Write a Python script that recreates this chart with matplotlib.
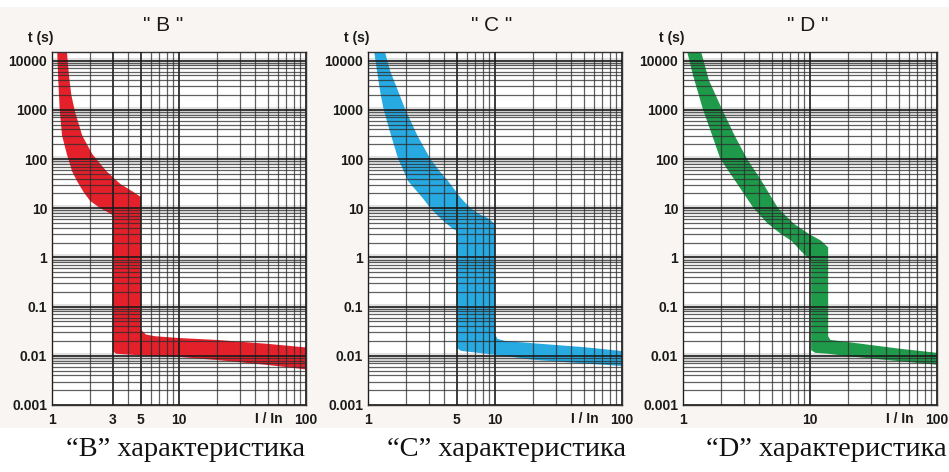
import numpy as np
import matplotlib
matplotlib.use("Agg")
import matplotlib.pyplot as plt
from matplotlib.ticker import FixedLocator, NullFormatter, LogLocator
from matplotlib.patches import Rectangle

# trip curves: (I/In, t in s)
b_upper_x = [1.31, 1.36, 1.42, 1.52, 1.73, 2.08, 2.4, 2.7, 3.1, 3.46, 4.3, 5.0, 5.0, 5.5, 6.5, 10, 20, 50, 100]
b_upper_t = [15000, 5000, 2000, 900, 300, 125, 80, 56, 40, 31, 22, 17, 0.034, 0.027, 0.025, 0.023, 0.021, 0.0175, 0.0148]
b_lower_x = [1.10, 1.12, 1.15, 1.2, 1.31, 1.44, 1.58, 1.78, 2.0, 2.4, 2.75, 3.0, 3.0, 3.2, 5, 10, 20, 50, 100]
b_lower_t = [15000, 4000, 1000, 300, 125, 56, 35, 21, 14, 10, 8.3, 7.2, 0.0125, 0.011, 0.0102, 0.0095, 0.0082, 0.0065, 0.0053]

c_upper_x = [1.36, 1.5, 1.67, 1.97, 2.45, 3.1, 3.7, 4.3, 5.4, 6.4, 7.6, 8.8, 10, 10, 10.5, 12, 20, 50, 100]
c_upper_t = [15000, 6000, 3000, 1000, 300, 100, 55, 35, 16, 10, 7.5, 6.3, 4.8, 0.027, 0.022, 0.020, 0.018, 0.015, 0.0125]
c_lower_x = [1.12, 1.18, 1.26, 1.33, 1.52, 1.73, 2.08, 2.7, 3.1, 3.7, 4.6, 5.0, 5.0, 5.4, 10, 20, 50, 100]
c_lower_t = [15000, 6000, 2000, 1000, 300, 100, 35, 16, 10, 6.3, 3.9, 3.5, 0.0145, 0.0126, 0.0105, 0.0083, 0.007, 0.0062]

d_upper_x = [1.39, 1.6, 2.04, 2.55, 3.2, 4.1, 5.6, 7.5, 9.8, 12.2, 13.9, 13.9, 14.5, 20, 50, 100]
d_upper_t = [15000, 4000, 1000, 300, 100, 38, 10, 4.8, 3.0, 2.2, 1.6, 0.025, 0.021, 0.019, 0.014, 0.0115]
d_lower_x = [1.08, 1.2, 1.44, 1.7, 1.97, 2.54, 3.6, 4.6, 5.9, 7.1, 8.6, 10.2, 10.2, 11, 14, 20, 50, 100]
d_lower_t = [15000, 5000, 1000, 300, 100, 38, 10, 5, 3.0, 2.2, 1.3, 0.85, 0.013, 0.0115, 0.011, 0.0098, 0.0078, 0.0066]

y_ticks = [0.001, 0.01, 0.1, 1, 10, 100, 1000, 10000]
y_labels = ["0.001", "0.01", "0.1", "1", "10", "100", "1000", "10000"]

panels = [
    ("B", b_upper_x, b_upper_t, b_lower_x, b_lower_t, "#e4212b", [1, 3, 5, 10, 100]),
    ("C", c_upper_x, c_upper_t, c_lower_x, c_lower_t, "#27a9e1", [1, 5, 10, 100]),
    ("D", d_upper_x, d_upper_t, d_lower_x, d_lower_t, "#1f9a4b", [1, 10, 100]),
]

W, H = 949, 472
lefts = [52, 368, 683]
title_x = [0.437, 0.488, 0.492]
caption_x = [185, 506, 826]

lab_font = ["Liberation Sans", "DejaVu Sans"]

fig = plt.figure(figsize=(W / 100, H / 100), dpi=100)
fig.patch.set_facecolor("white")
fig.patches.append(Rectangle((0, 1 - 428 / H), 1, (428 - 7) / H, transform=fig.transFigure,
                             facecolor="#f8f5f2", edgecolor="none", zorder=-10))

for i, (name, ux, ut, lx, lt, col, xt) in enumerate(panels):
    ax = fig.add_axes([lefts[i] / W, 1 - 405 / H, 254 / W, 353 / H])
    ax.set_xscale("log")
    ax.set_yscale("log")
    ax.set_xlim(1, 100)
    ax.set_ylim(0.001, 15000)
    ax.set_facecolor("white")

    # band between the two curves
    px = list(ux) + list(lx)[::-1]
    pt = list(ut) + list(lt)[::-1]
    ax.fill(px, pt, color=col, lw=0, zorder=1)

    # grey smear around each decade line
    for d in y_ticks[1:]:
        ax.axhspan(d / 1.3, d * 1.15, color="#bdbdbd", alpha=0.45, lw=0, zorder=0.5)

    ax.xaxis.set_major_locator(FixedLocator(xt))
    ax.xaxis.set_minor_locator(LogLocator(base=10, subs=np.arange(1, 10), numticks=50))
    ax.yaxis.set_major_locator(FixedLocator(y_ticks))
    ax.yaxis.set_minor_locator(LogLocator(base=10, subs=np.arange(1, 10), numticks=50))
    ax.xaxis.set_minor_formatter(NullFormatter())
    ax.yaxis.set_minor_formatter(NullFormatter())
    ax.set_xticklabels([str(v) for v in xt])
    ax.set_yticklabels(y_labels)

    ax.grid(which="minor", axis="both", color="#2b2b2b", lw=0.9, alpha=0.75, zorder=2)
    ax.grid(which="major", axis="both", color="#1a1a1a", lw=1.4, alpha=0.85, zorder=2)
    ax.set_axisbelow(False)
    ax.tick_params(which="both", length=0)
    ax.tick_params(axis="y", pad=3.5)
    ax.tick_params(axis="x", pad=6)
    for lab in ax.get_xticklabels() + ax.get_yticklabels():
        lab.set_family(lab_font)
        lab.set_fontweight("bold")
        lab.set_fontsize(10)
        lab.set_color("#1a1a1a")
    for s in ax.spines.values():
        s.set_color("#333333")
        s.set_linewidth(1.0)

    ax.text(title_x[i], 1.076, '" %s "' % name, transform=ax.transAxes, ha="center", va="center",
            family=lab_font, fontsize=15, color="#1a1a1a")
    ax.text(0.005, 1.04, "t (s)", transform=ax.transAxes, ha="right", va="center",
            family=lab_font, fontweight="bold", fontsize=10, color="#1a1a1a")
    ax.text(0.855, -0.04, "I / In", transform=ax.transAxes, ha="center", va="center",
            family=lab_font, fontweight="bold", fontsize=10, color="#1a1a1a")

    fig.text(caption_x[i] / W, 1 - 449 / H, "\u201c%s\u201d характеристика" % name,
             ha="center", va="center", family=["Liberation Serif", "DejaVu Serif"],
             fontsize=20.5, color="#111111")

fig.savefig("out.png", dpi=100)
